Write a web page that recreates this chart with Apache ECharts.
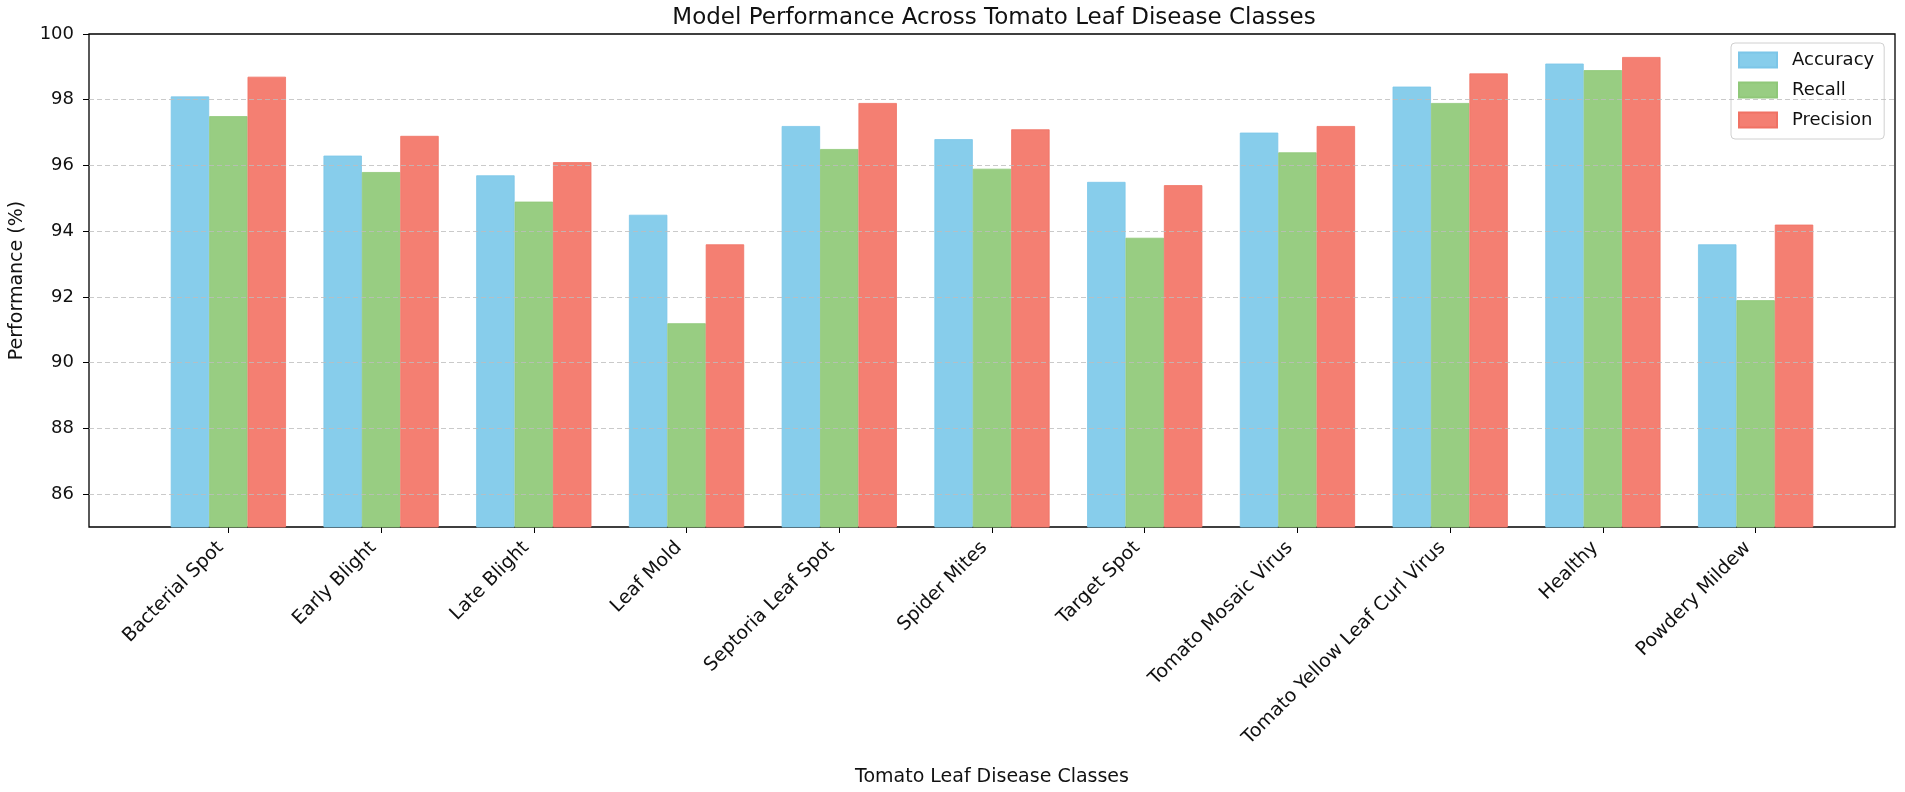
<!DOCTYPE html>
<html>
<head>
<meta charset="utf-8">
<script src="https://cdn.jsdelivr.net/npm/echarts@6/dist/echarts.min.js"></script>
<style>
html,body{margin:0;padding:0;background:#fff;}
#chart{width:1905px;height:792px;}
</style>
</head>
<body>
<div id="chart"></div>
<script>
const categories = ['Bacterial Spot','Early Blight','Late Blight','Leaf Mold','Septoria Leaf Spot','Spider Mites','Target Spot','Tomato Mosaic Virus','Tomato Yellow Leaf Curl Virus','Healthy','Powdery Mildew'];
const accuracy  = [98.1, 96.3, 95.7, 94.5, 97.2, 96.8, 95.5, 97.0, 98.4, 99.1, 93.6];
const recall    = [97.5, 95.8, 94.9, 91.2, 96.5, 95.9, 93.8, 96.4, 97.9, 98.9, 91.9];
const precision = [98.7, 96.9, 96.1, 93.6, 97.9, 97.1, 95.4, 97.2, 98.8, 99.3, 94.2];
const yTicks = [86, 88, 90, 92, 94, 96, 98, 100];
const gridValues = [86, 88, 90, 92, 94, 96, 98];

const FONT = 'DejaVu Sans';
const chart = echarts.init(document.getElementById('chart'), null, {renderer: 'canvas'});
const idx = categories.map((c, i) => i);
const toPairs = arr => arr.map((v, i) => [i, v]);
const BW = 38.4;

chart.setOption({
  animation: false,
  backgroundColor: '#fff',
  textStyle: {fontFamily: FONT},
  title: {
    text: 'Model Performance Across Tomato Leaf Disease Classes',
    left: 989, top: 2, textAlign: 'center',
    textStyle: {fontFamily: FONT, fontSize: 23, fontWeight: 'normal', color: '#111'}
  },
  legend: {
    orient: 'vertical',
    left: 1731, top: 43,
    padding: [8, 10, 10, 7],
    itemWidth: 38, itemHeight: 15, itemGap: 12,
    icon: 'rect',
    borderColor: '#d0d0d0', borderWidth: 1, borderRadius: 4,
    backgroundColor: 'rgba(255,255,255,0.85)',
    textStyle: {fontFamily: FONT, fontSize: 18, color: '#111', padding: [0, 0, 0, 10]},
    data: ['Accuracy', 'Recall', 'Precision']
  },
  grid: {
    left: 82, right: 10, top: 34, bottom: 254,
    show: true, borderColor: '#000', borderWidth: 1.3, backgroundColor: 'transparent'
  },
  xAxis: {
    type: 'value',
    min: -0.9125, max: 10.9125,
    name: 'Tomato Leaf Disease Classes',
    nameLocation: 'middle', nameGap: 241,
    nameTextStyle: {fontFamily: FONT, fontSize: 19, color: '#111'},
    axisLine: {show: false, onZero: false},
    axisTick: {show: true, length: 6, lineStyle: {color: '#000', width: 1}, customValues: idx},
    axisLabel: {
      customValues: idx, rotate: 45, margin: 10,
      padding: [0, 11, 0, 0],
      fontFamily: FONT, fontSize: 19, color: '#111',
      formatter: v => categories[Math.round(v)]
    },
    splitLine: {show: false}
  },
  yAxis: {
    type: 'value', min: 85, max: 100,
    name: 'Performance (%)', nameLocation: 'middle', nameGap: 62,
    nameTextStyle: {fontFamily: FONT, fontSize: 19, color: '#111'},
    axisLine: {show: false, onZero: false},
    axisTick: {show: true, length: 6, lineStyle: {color: '#000', width: 1}, customValues: yTicks},
    axisLabel: {customValues: yTicks, margin: 15, fontFamily: FONT, fontSize: 18, color: '#111'},
    splitLine: {show: false}
  },
  series: [
    {
      name: 'Accuracy', type: 'bar', barWidth: BW, barGap: '0%',
      itemStyle: {color: '#87CDEB', borderColor: '#7cc6e8', borderWidth: 0.8},
      data: toPairs(accuracy),
      markLine: {
        silent: true, symbol: 'none', label: {show: false},
        lineStyle: {type: [5, 3], color: '#bdbdbd', width: 1, opacity: 0.8},
        emphasis: {disabled: true},
        data: gridValues.map(v => ({yAxis: v}))
      },
      z: 3
    },
    {
      name: 'Recall', type: 'bar', barWidth: BW, barGap: '0%',
      itemStyle: {color: '#98CD82', borderColor: '#8fc879', borderWidth: 0.8},
      data: toPairs(recall), z: 3
    },
    {
      name: 'Precision', type: 'bar', barWidth: BW, barGap: '0%',
      itemStyle: {color: '#F47F72', borderColor: '#f07264', borderWidth: 0.8},
      data: toPairs(precision), z: 3
    }
  ]
});
</script>
</body>
</html>
